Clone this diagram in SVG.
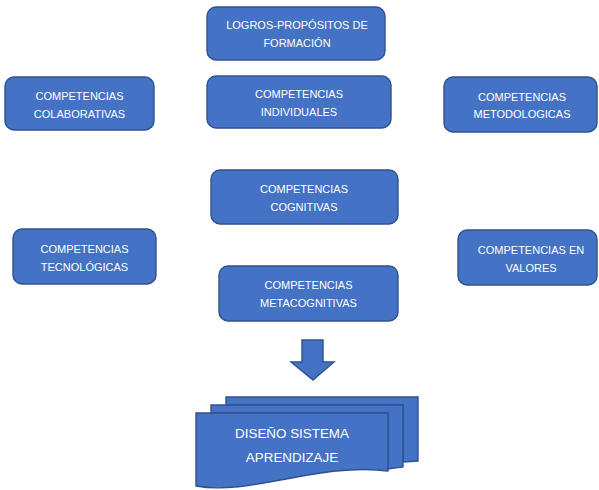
<svg xmlns="http://www.w3.org/2000/svg" width="599" height="490" viewBox="0 0 599 490">
<style>
.box{fill:#4472C4;stroke:#2F528F;stroke-width:1.4}
.t{fill:#FFFFFF;font-family:"Liberation Sans",Arial,sans-serif;font-size:11px;text-anchor:middle}
.tb{fill:#FFFFFF;font-family:"Liberation Sans",Arial,sans-serif;font-size:13.4px;text-anchor:middle}
</style>
<rect width="599" height="490" fill="#FFFFFF"/>
<g id="node-logros">
<rect class="box" x="207" y="7" width="178" height="53" rx="9"/>
<text class="t" x="297" y="29">LOGROS-PROPÓSITOS DE</text>
<text class="t" x="297" y="47">FORMACIÓN</text>
</g>
<g id="node-individuales">
<rect class="box" x="207" y="76" width="184" height="52" rx="9"/>
<text class="t" x="299" y="98">COMPETENCIAS</text>
<text class="t" x="299" y="116">INDIVIDUALES</text>
</g>
<g id="node-colaborativas">
<rect class="box" x="5" y="77" width="149" height="53" rx="9"/>
<text class="t" x="79.5" y="100">COMPETENCIAS</text>
<text class="t" x="79.5" y="118">COLABORATIVAS</text>
</g>
<g id="node-metodologicas">
<rect class="box" x="444" y="77" width="153" height="55" rx="9"/>
<text class="t" x="522" y="101">COMPETENCIAS</text>
<text class="t" x="522" y="118">METODOLOGICAS</text>
</g>
<g id="node-cognitivas">
<rect class="box" x="211" y="170" width="187" height="54" rx="9"/>
<text class="t" x="304" y="193">COMPETENCIAS</text>
<text class="t" x="304" y="211">COGNITIVAS</text>
</g>
<g id="node-tecnologicas">
<rect class="box" x="13" y="229" width="143" height="55" rx="9"/>
<text class="t" x="84.5" y="253">COMPETENCIAS</text>
<text class="t" x="84.5" y="271">TECNOLÓGICAS</text>
</g>
<g id="node-valores">
<rect class="box" x="458" y="230" width="139" height="55" rx="9"/>
<text class="t" x="531" y="254">COMPETENCIAS EN</text>
<text class="t" x="531" y="272">VALORES</text>
</g>
<g id="node-metacognitivas">
<rect class="box" x="219" y="266" width="179" height="55" rx="9"/>
<text class="t" x="308.5" y="289">COMPETENCIAS</text>
<text class="t" x="308.5" y="307">METACOGNITIVAS</text>
</g>
<g id="connectors">
<path class="box" d="M302,340 H323 V362 H334 L313,380 L291,362 H302 Z"/>
</g>
<g id="node-diseno">
<path class="box" d="M226,397 H418 V461 L403,462 V405 H226 Z"/>
<path class="box" d="M211,405 H403 V467 L388,469 V413 H211 Z"/>
<path class="box" d="M196,413 H388 V471 C320,462 250,496 196,486 Z"/>
<text class="tb" x="292" y="438">DISEÑO SISTEMA</text>
<text class="tb" x="292" y="462">APRENDIZAJE</text>
</g>
</svg>
